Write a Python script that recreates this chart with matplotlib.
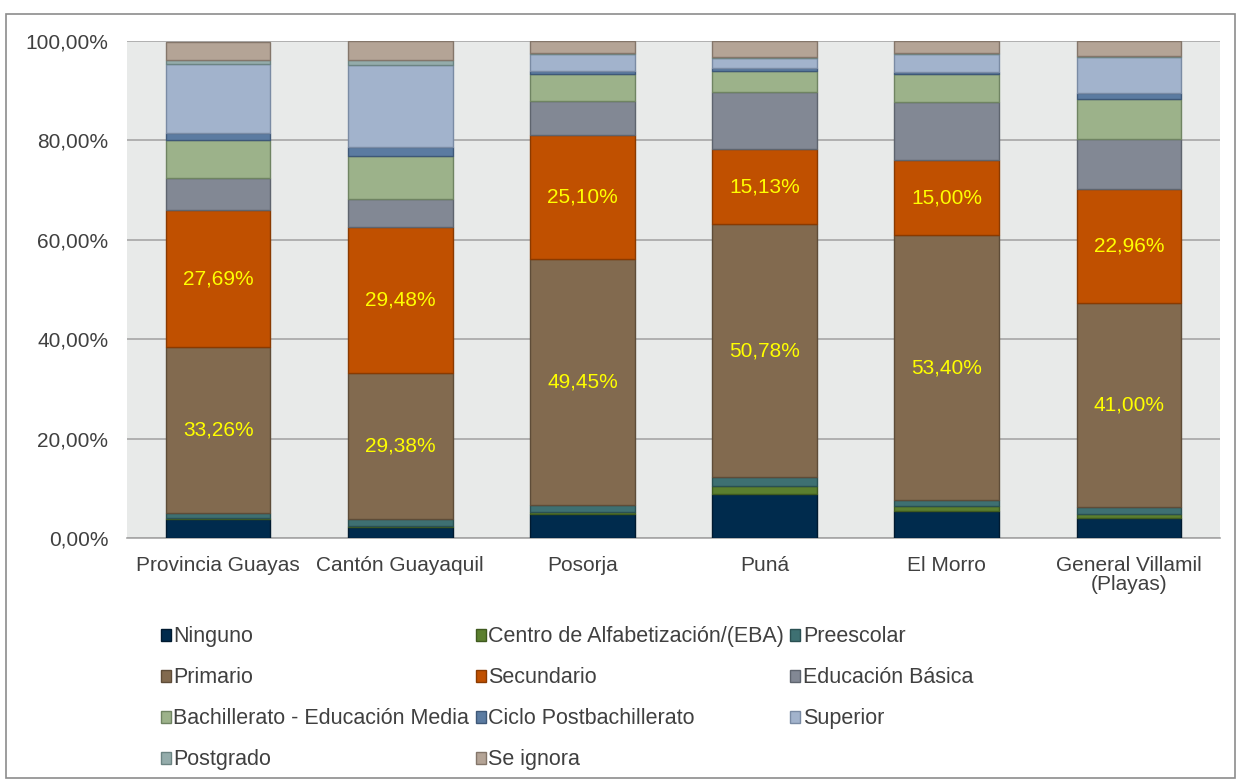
import matplotlib
matplotlib.use("Agg")
import matplotlib.pyplot as plt
from matplotlib.patches import Patch, Rectangle
import numpy as np

plt.rcParams["font.family"] = ["Liberation Sans", "DejaVu Sans"]

# === DATA (percent of population) ===
places = ["Provincia Guayas", "Cantón Guayaquil", "Posorja", "Puná", "El Morro",
          "General Villamil\n(Playas)"]

ninguno     = [3.8, 2.2, 4.8, 8.9, 5.5, 4.0]
centro_eba  = [0.3, 0.3, 0.5, 1.6, 0.9, 0.8]
preescolar  = [1.0, 1.3, 1.3, 1.8, 1.2, 1.4]
primario    = [33.26, 29.38, 49.45, 50.78, 53.40, 41.00]
secundario  = [27.69, 29.48, 25.10, 15.13, 15.00, 22.96]
edu_basica  = [6.3, 5.5, 6.7, 11.5, 11.7, 10.1]
bachillerato = [7.7, 8.7, 5.5, 4.3, 5.7, 8.0]
ciclo_post  = [1.4, 1.8, 0.6, 0.6, 0.4, 1.2]
superior    = [13.9, 16.5, 3.4, 2.0, 3.6, 7.3]
postgrado   = [0.8, 1.0, 0.2, 0.2, 0.2, 0.3]
se_ignora   = [3.6, 3.8, 2.4, 3.2, 2.4, 2.9]

series = [
    ("Ninguno", ninguno, "#002b4d", "#001a30"),
    ("Centro de Alfabetización/(EBA)", centro_eba, "#5b7f2f", "#3f5a1f"),
    ("Preescolar", preescolar, "#3e7072", "#2a5052"),
    ("Primario", primario, "#826a4f", "#5e4c38"),
    ("Secundario", secundario, "#c05000", "#8a3a00"),
    ("Educación Básica", edu_basica, "#828894", "#5e646e"),
    ("Bachillerato - Educación Media", bachillerato, "#9cb28a", "#6f8462"),
    ("Ciclo Postbachillerato", ciclo_post, "#5b7ba1", "#3e5878"),
    ("Superior", superior, "#a2b3cc", "#7a8ba4"),
    ("Postgrado", postgrado, "#94acab", "#6c8483"),
    ("Se ignora", se_ignora, "#b4a496", "#84766a"),
]
labelled = {"Primario", "Secundario"}

FS = 15

fig = plt.figure(figsize=(12.37, 7.79), dpi=100)
ax = fig.add_axes([0.1027, 0.3094, 0.8836, 0.638])
ax.set_facecolor("#e8eae9")

x = np.arange(len(places))
bottom = np.zeros(len(places))
handles = []
for name, vals, color, edge in series:
    vals = np.array(vals)
    ax.bar(x, vals, bottom=bottom, width=0.575, color=color, edgecolor=edge,
           linewidth=1.0, zorder=3)
    if name in labelled:
        for xi, b, v in zip(x, bottom, vals):
            ax.text(xi, b + v / 2, f"{v:.2f}%".replace(".", ","), ha="center",
                    va="center", color="#ffff00", fontsize=FS, zorder=4)
    bottom += vals
    handles.append(Patch(facecolor=color, edgecolor=edge, linewidth=1.0, label=name))

ax.set_xlim(-0.5, len(places) - 0.5)
ax.set_ylim(0, 100)
ax.set_yticks(np.arange(0, 101, 20))
ax.set_yticklabels([f"{v},00%" for v in range(0, 101, 20)])
ax.set_xticks(x)
ax.set_xticklabels(places, linespacing=1.0)
ax.tick_params(axis="both", length=0, labelsize=FS, colors="#404040")
ax.tick_params(axis="y", pad=13.5)
ax.tick_params(axis="x", pad=13)
ax.grid(axis="y", color="#a6a6a6", linewidth=1.2, zorder=1)
for side in ["top", "right", "left"]:
    ax.spines[side].set_visible(False)
ax.spines["bottom"].set_color("#a6a6a6")
ax.spines["bottom"].set_linewidth(1.2)

# legend: reorder so column-major fill reads row-major
order = [0, 3, 6, 9, 1, 4, 7, 10, 2, 5, 8]
leg = fig.legend([handles[i] for i in order], [handles[i].get_label() for i in order],
                 ncol=3, loc="upper left", bbox_to_anchor=(0.130, 0.196),
                 frameon=False, fontsize=15.5, handlelength=0.46, handleheight=0.46,
                 handletextpad=0.12, columnspacing=0.3, labelspacing=0.93,
                 borderaxespad=0, borderpad=0)
for t in leg.get_texts():
    t.set_color("#404040")

# chart border
fig.patches.append(Rectangle((6 / 1237, 1 / 779), 1229 / 1237, 764 / 779,
                             transform=fig.transFigure, fill=False,
                             edgecolor="#8c8c8c", linewidth=1.2))

fig.savefig("out.png", dpi=100)
